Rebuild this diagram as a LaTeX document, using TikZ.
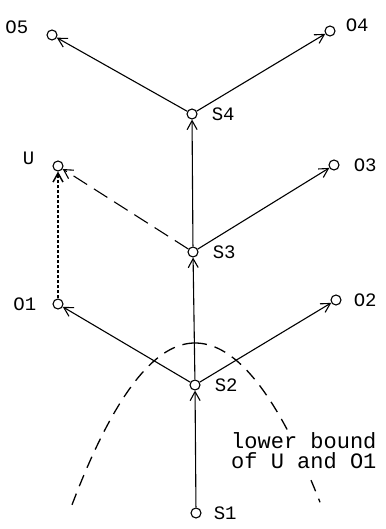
\documentclass[tikz,border=0pt]{standalone}
\usepackage{fontspec}
\setmonofont{Liberation Mono}
\usepackage{tikz}
\usetikzlibrary{arrows.meta,positioning}

\begin{document}
\begin{tikzpicture}[
    x=1pt, y=-1pt,
    state/.style={circle, draw, line width=1.1pt, inner sep=0pt, minimum size=10pt},
    lbl/.style={font=\ttfamily\fontsize{19}{20}\selectfont, inner sep=0pt},
    arr/.style={-{Straight Barb[length=9pt, width=10pt]}, line width=1.1pt},
    bound/.style={line width=1.3pt, dash pattern=on 12pt off 8pt}
]
\useasboundingbox (0,0) rectangle (385,529);

% states along the main path
\node[state] (s1) at (196,513) {};
\node[state] (s2) at (195,385) {};
\node[state] (s3) at (193,252) {};
\node[state] (s4) at (192,114) {};

% outcomes
\node[state] (o1) at (58,304) {};
\node[state] (o2) at (336,300) {};
\node[state] (u)  at (58,166) {};
\node[state] (o3) at (334,165) {};
\node[state] (o5) at (52,35) {};
\node[state] (o4) at (330,31) {};

% labels
\node[lbl, right=12pt of s1] (ls1) {S1};
\node[lbl, right=14pt of s2] (ls2) {S2};
\node[lbl, right=14pt of s3] (ls3) {S3};
\node[lbl, right=14pt of s4] (ls4) {S4};
\node[lbl, left=16pt of o1]  (lo1) {O1};
\node[lbl, right=12pt of o2] (lo2) {O2};
\node[lbl, left=18pt of u, yshift=8pt] (lu) {U};
\node[lbl, right=14pt of o3] (lo3) {O3};
\node[lbl, left=18pt of o5, yshift=8pt] (lo5) {O5};
\node[lbl, right=10pt of o4, yshift=6pt] (lo4) {O4};

\draw[arr] (s1) -- (s2);
\draw[arr] (s2) -- (s3);
\draw[arr] (s3) -- (s4);
\draw[arr] (s2) -- (o1);
\draw[arr] (s2) -- (o2);
\draw[arr, dash pattern=on 16pt off 8pt] (s3) -- (u);
\draw[arr] (s3) -- (o3);
\draw[arr] (s4) -- (o5);
\draw[arr] (s4) -- (o4);
\draw[arr, dash pattern=on 3pt off 2pt, line width=1.5pt] (o1) -- (u);

% lower bound curve
\draw[bound] plot[domain=72:195, samples=40] (\x, {343+0.0107*(\x-195)*(\x-195)});
\draw[bound] plot[domain=195:290, samples=30] (\x, {343+0.0102*(\x-195)*(\x-195)});
\draw[bound] plot[domain=311:320, samples=5] (\x, {343+0.0102*(\x-195)*(\x-195)});
\node[lbl, anchor=north west, align=left, font=\ttfamily\fontsize{22}{20}\selectfont] (note) at (231,432) {lower bound\\of U and O1};

\end{tikzpicture}
\end{document}
